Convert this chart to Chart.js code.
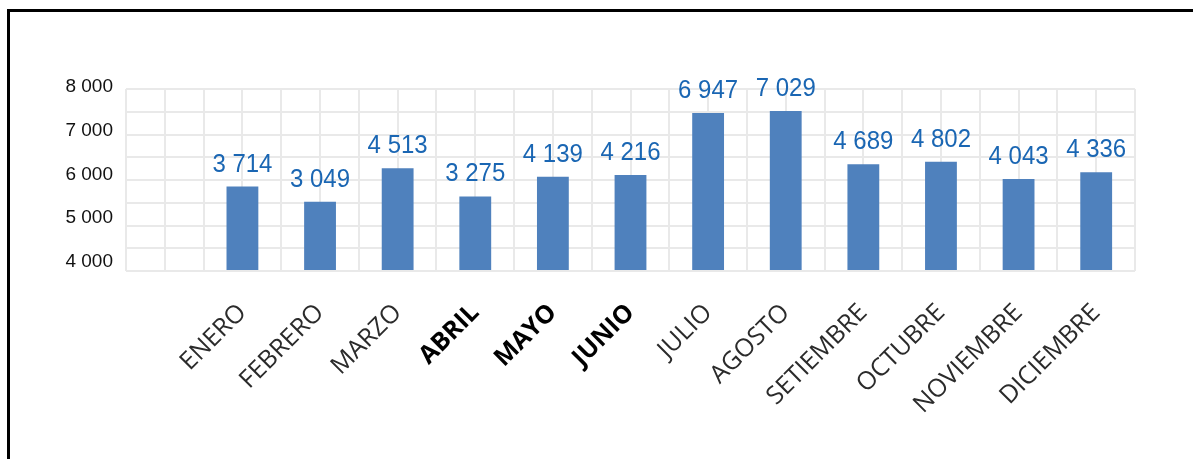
<!DOCTYPE html>
<html>
<head>
<meta charset="utf-8">
<script src="https://cdn.jsdelivr.net/npm/chart.js@4.4.1/dist/chart.umd.min.js"></script>
<style>
  html, body { margin: 0; padding: 0; background: #fff; }
  #frame {
    position: absolute; left: 7px; top: 9px; right: 0; bottom: 0;
    border-top: 3px solid #000; border-left: 3px solid #000;
  }
  #wrap { position: absolute; left: 0; top: 0; width: 1193px; height: 459px; }
</style>
</head>
<body>
<div id="frame"></div>
<div id="wrap"><canvas id="chart"></canvas></div>
<script>
// 1. DATA
const months = ['', 'ENERO', 'FEBRERO', 'MARZO', 'ABRIL', 'MAYO', 'JUNIO', 'JULIO',
  'AGOSTO', 'SETIEMBRE', 'OCTUBRE', 'NOVIEMBRE', 'DICIEMBRE'];
const values = [null, 3714, 3049, 4513, 3275, 4139, 4216, 6947, 7029, 4689, 4802, 4043, 4336];
const axisTicks = [4000, 5000, 6000, 7000, 8000];
const boldMonths = ['ABRIL', 'MAYO', 'JUNIO'];

// 2. HELPERS
function fmt(v) {
  return String(v).replace(/\B(?=(\d{3})+(?!\d))/g, ' ');
}

// labels above the bars (text a bit taller than wide, like the original)
const barLabels = {
  id: 'barLabels',
  afterDatasetsDraw(chart) {
    const ctx = chart.ctx;
    const meta = chart.getDatasetMeta(0);
    meta.data.forEach((bar, i) => {
      if (values[i] === null) return;
      ctx.save();
      ctx.translate(bar.x, bar.y - 15);
      ctx.scale(1, 1.1);
      ctx.font = '24px "Liberation Sans", Arial, sans-serif';
      ctx.fillStyle = '#1a66b3';
      ctx.textAlign = 'center';
      ctx.textBaseline = 'alphabetic';
      ctx.fillText(fmt(values[i]), 0, 0);
      ctx.restore();
    });
  }
};

// 3. CHART
const gridColor = '#e9e9e9';

new Chart(document.getElementById('chart').getContext('2d'), {
  type: 'bar',
  data: {
    labels: months,
    datasets: [{
      data: values,
      backgroundColor: '#4f81bd',
      categoryPercentage: 1,
      barPercentage: 0.41,
      yAxisID: 'y'
    }]
  },
  options: {
    responsive: true,
    maintainAspectRatio: false,
    animation: false,
    layout: { padding: { left: 0, right: 58, top: 89, bottom: 0 } },
    plugins: { legend: { display: false }, tooltip: { enabled: false } },
    scales: {
      x: {
        grid: { display: false },
        border: { display: false },
        ticks: {
          autoSkip: false,
          maxRotation: 45,
          minRotation: 45,
          padding: 19,
          color: ctx => boldMonths.includes(ctx.tick.label) ? '#000' : '#2b2b2b',
          font: ctx => ({
            family: '"Open Sans", sans-serif',
            size: 25,
            weight: boldMonths.includes(ctx.tick.label) ? 'bold' : 'normal'
          })
        },
        afterFit: s => { s.height = 188; }
      },
      x2: {
        type: 'category',
        labels: Array(26).fill(''),
        position: 'bottom',
        offset: true,
        grid: { color: gridColor, lineWidth: 2, offset: true, drawTicks: false },
        border: { display: false },
        ticks: { display: false },
        afterFit: s => { s.height = 0; }
      },
      y: {
        position: 'right',
        min: 0,
        max: 8000,
        grid: { color: gridColor, lineWidth: 2, drawTicks: false },
        border: { display: false },
        ticks: { display: false, stepSize: 1000 },
        afterFit: s => { s.width = 0; }
      },
      y2: {
        position: 'left',
        min: 3794,
        max: 7954,
        grid: { display: false, drawTicks: false },
        border: { display: false },
        afterBuildTicks: s => { s.ticks = axisTicks.map(v => ({ value: v })); },
        ticks: {
          padding: 13,
          color: '#111',
          font: { family: '"Liberation Sans", Arial, sans-serif', size: 19 },
          callback: v => fmt(v)
        },
        afterFit: s => { s.width = 126; }
      }
    }
  },
  plugins: [barLabels]
});
</script>
</body>
</html>
